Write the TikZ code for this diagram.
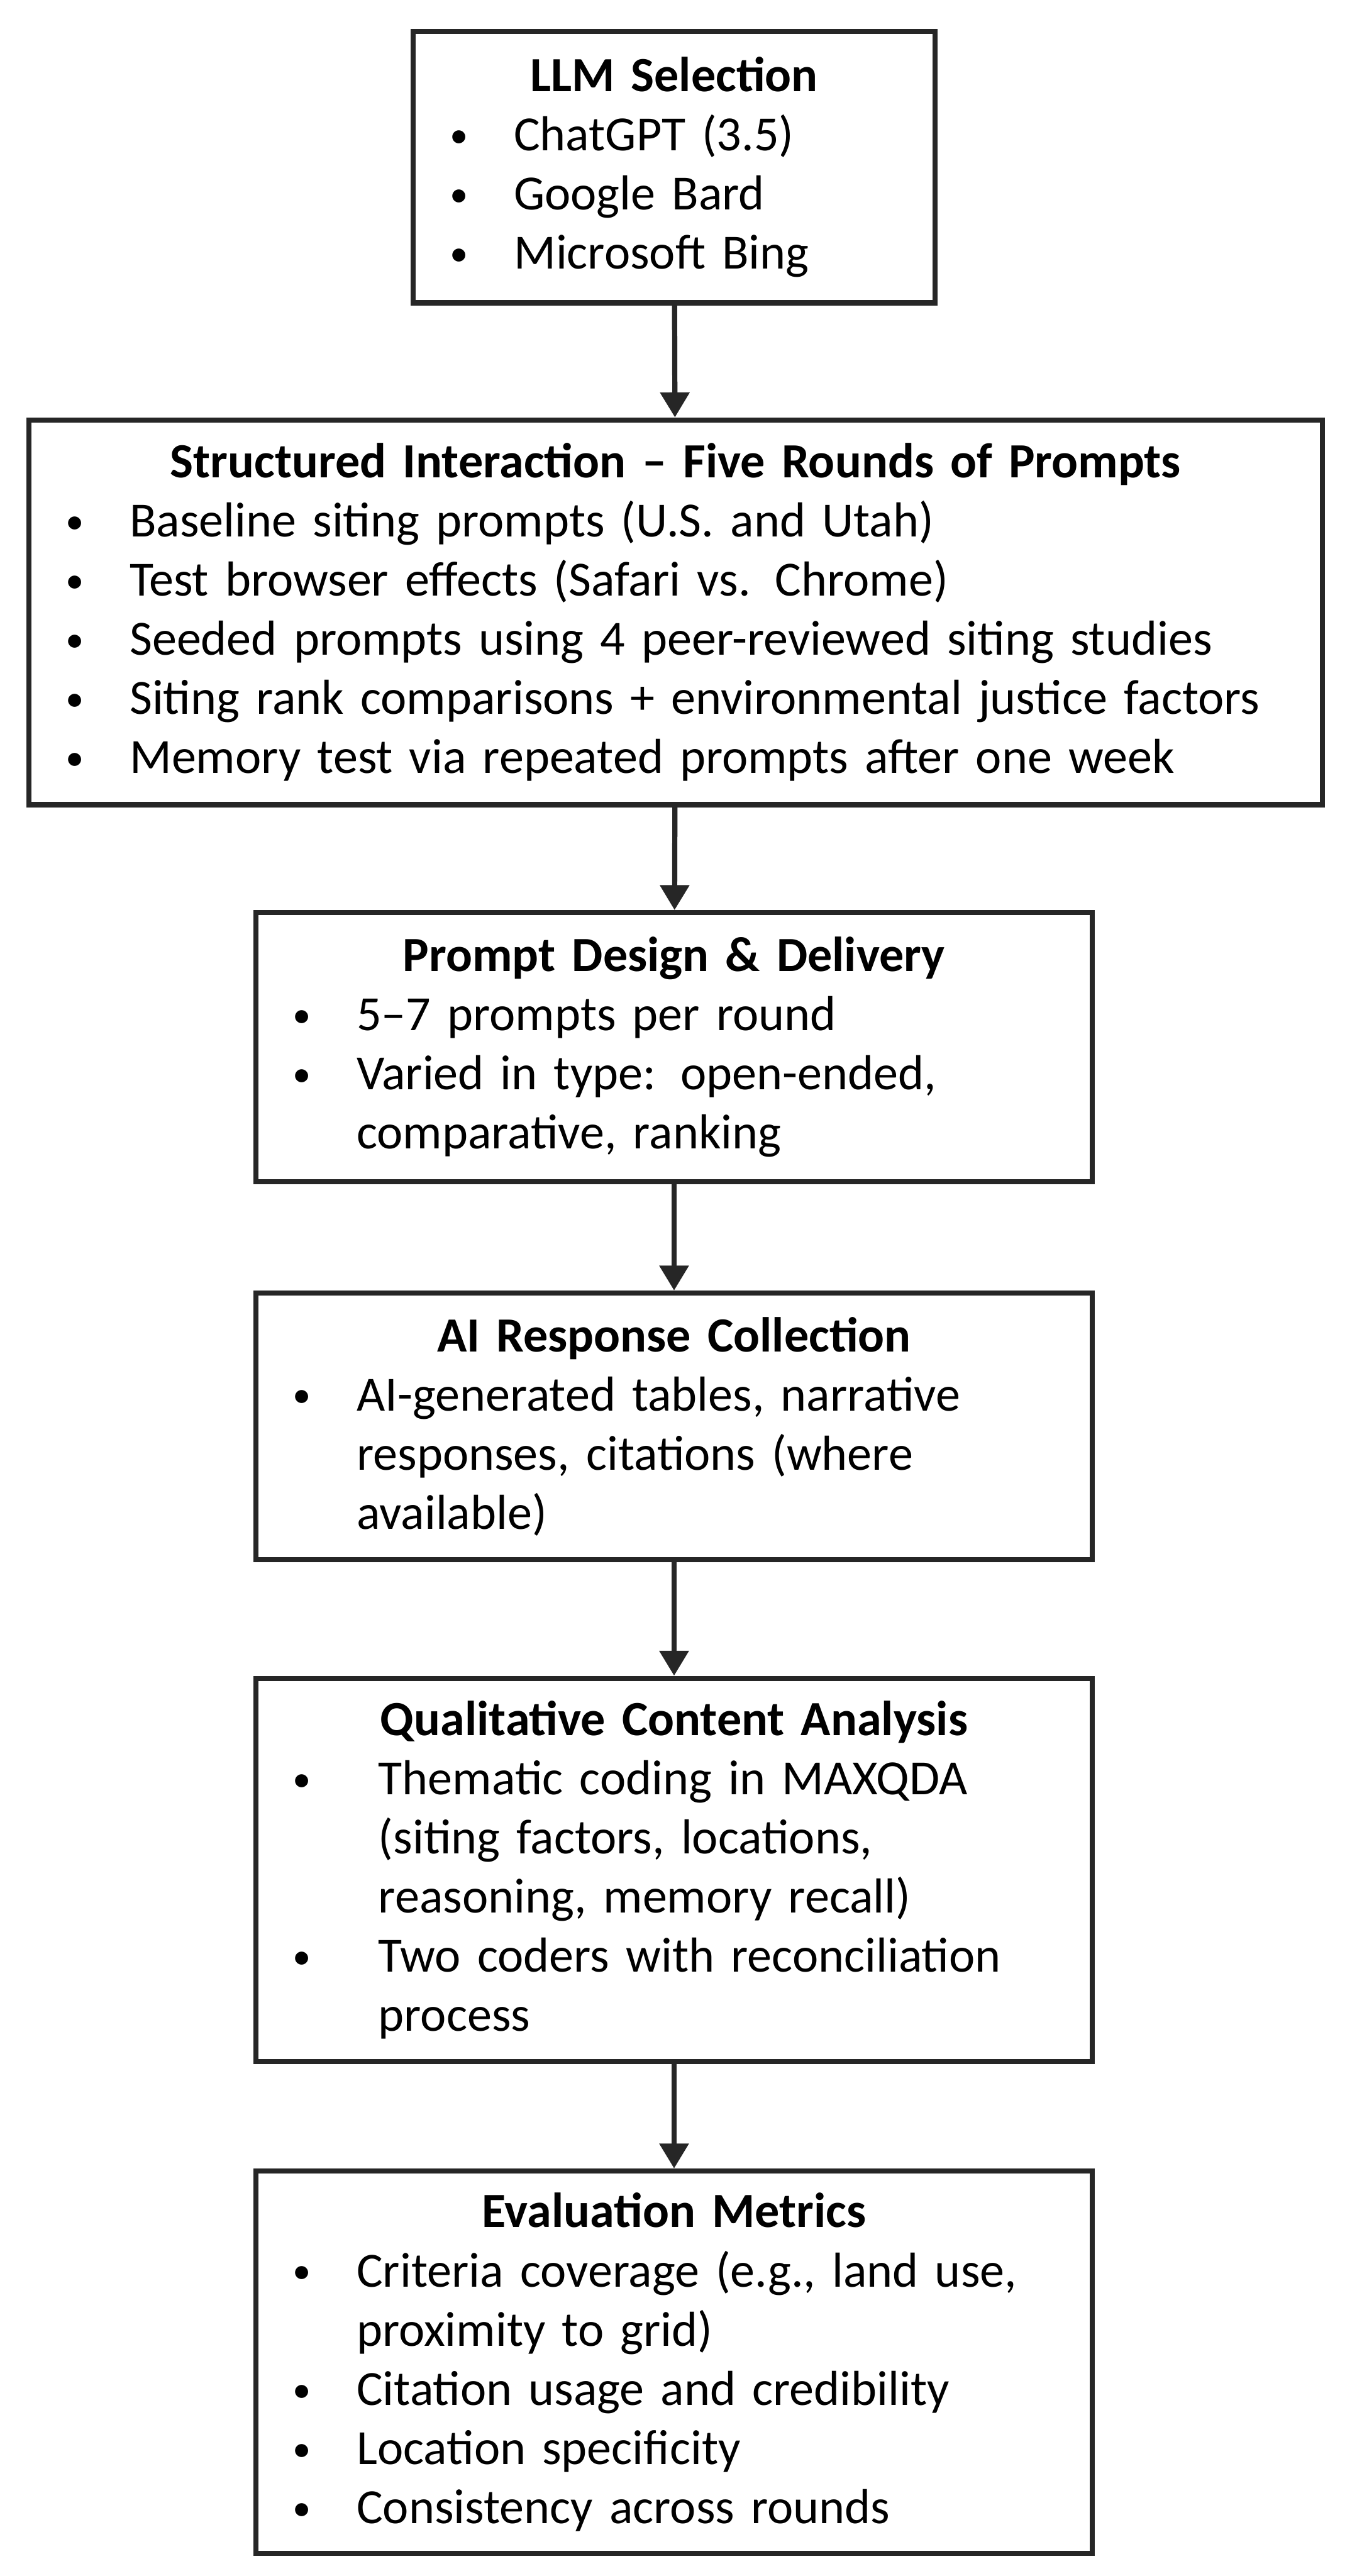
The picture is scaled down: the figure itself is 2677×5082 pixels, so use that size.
\documentclass[tikz,border=0pt]{standalone}
\usepackage{fontspec}
\setmainfont{Carlito}
\usetikzlibrary{arrows.meta}

\newlength{\bind}
\setlength{\bind}{16.2pt}
% bullet line with hanging indent
\newcommand{\bitem}[2][\bind]{\par\noindent\hangindent=#1\hangafter=0%
	\llap{\makebox[#1][l]{\hspace*{-1.8pt}\raisebox{0.9pt}{\scalebox{0.75}{\textbullet}}}}#2\par}
\newcommand{\btitle}[1]{{\centering\bfseries #1\par}}

\tikzset{
	stage/.style={draw=black!85, line width=1.45pt, inner xsep=4.25mm, inner ysep=0pt,
		align=left, font=\fontsize{13.8}{16.6}\selectfont},
	flow/.style={draw=black!85, line width=1.45pt, -{Triangle[length=7pt,width=8pt]}}
}

\begin{document}
\begin{tikzpicture}[x=0.05mm,y=-0.05mm]
	\useasboundingbox (0,0) rectangle (2677,5082);
	\node[stage, text width=43mm, minimum height=26.75mm] (llm) at (1330,330) {
		\btitle{LLM Selection}
		\bitem{ChatGPT (3.5)}
		\bitem{Google Bard}
		\bitem{Microsoft Bing}};
	\node[stage, text width=119.1mm, minimum height=37.95mm] (rounds) at (1333,1208) {
		\btitle{Structured Interaction -- Five Rounds of Prompts}
		\bitem{Baseline siting prompts (U.S. and Utah)}
		\bitem{Test browser effects (Safari vs. Chrome)}
		\bitem{Seeded prompts using 4 peer-reviewed siting studies}
		\bitem{Siting rank comparisons + environmental justice factors}
		\bitem{Memory test via repeated prompts after one week}};
	\node[stage, text width=74mm, minimum height=26.55mm] (design) at (1330,2066) {
		\btitle{Prompt Design \& Delivery}
		\bitem{5--7 prompts per round}
		\bitem{Varied in type: open-ended,\newline comparative, ranking}};
	\node[stage, text width=74mm, minimum height=26.3mm] (collect) at (1330,2814) {
		\btitle{AI Response Collection}
		\bitem{AI-generated tables, narrative\newline responses, citations (where\newline available)}};
	\node[stage, text width=74mm, minimum height=37.8mm] (coding) at (1330,3689) {
		\btitle{Qualitative Content Analysis}
		\bitem[22.3pt]{Thematic coding in MAXQDA\newline (siting factors, locations,\newline reasoning, memory recall)}
		\bitem[22.3pt]{Two coders with reconciliation\newline process}};
	\node[stage, text width=74mm, minimum height=37.7mm] (metrics) at (1330,4660) {
		\btitle{Evaluation Metrics}
		\bitem{Criteria coverage (e.g., land use,\newline proximity to grid)}
		\bitem{Citation usage and credibility}
		\bitem{Location specificity}
		\bitem{Consistency across rounds}};
	\draw[flow] (llm) -- (rounds);
	\draw[flow] (rounds) -- (design);
	\draw[flow] (design) -- (collect);
	\draw[flow] (collect) -- (coding);
	\draw[flow] (coding) -- (metrics);
\end{tikzpicture}
\end{document}
